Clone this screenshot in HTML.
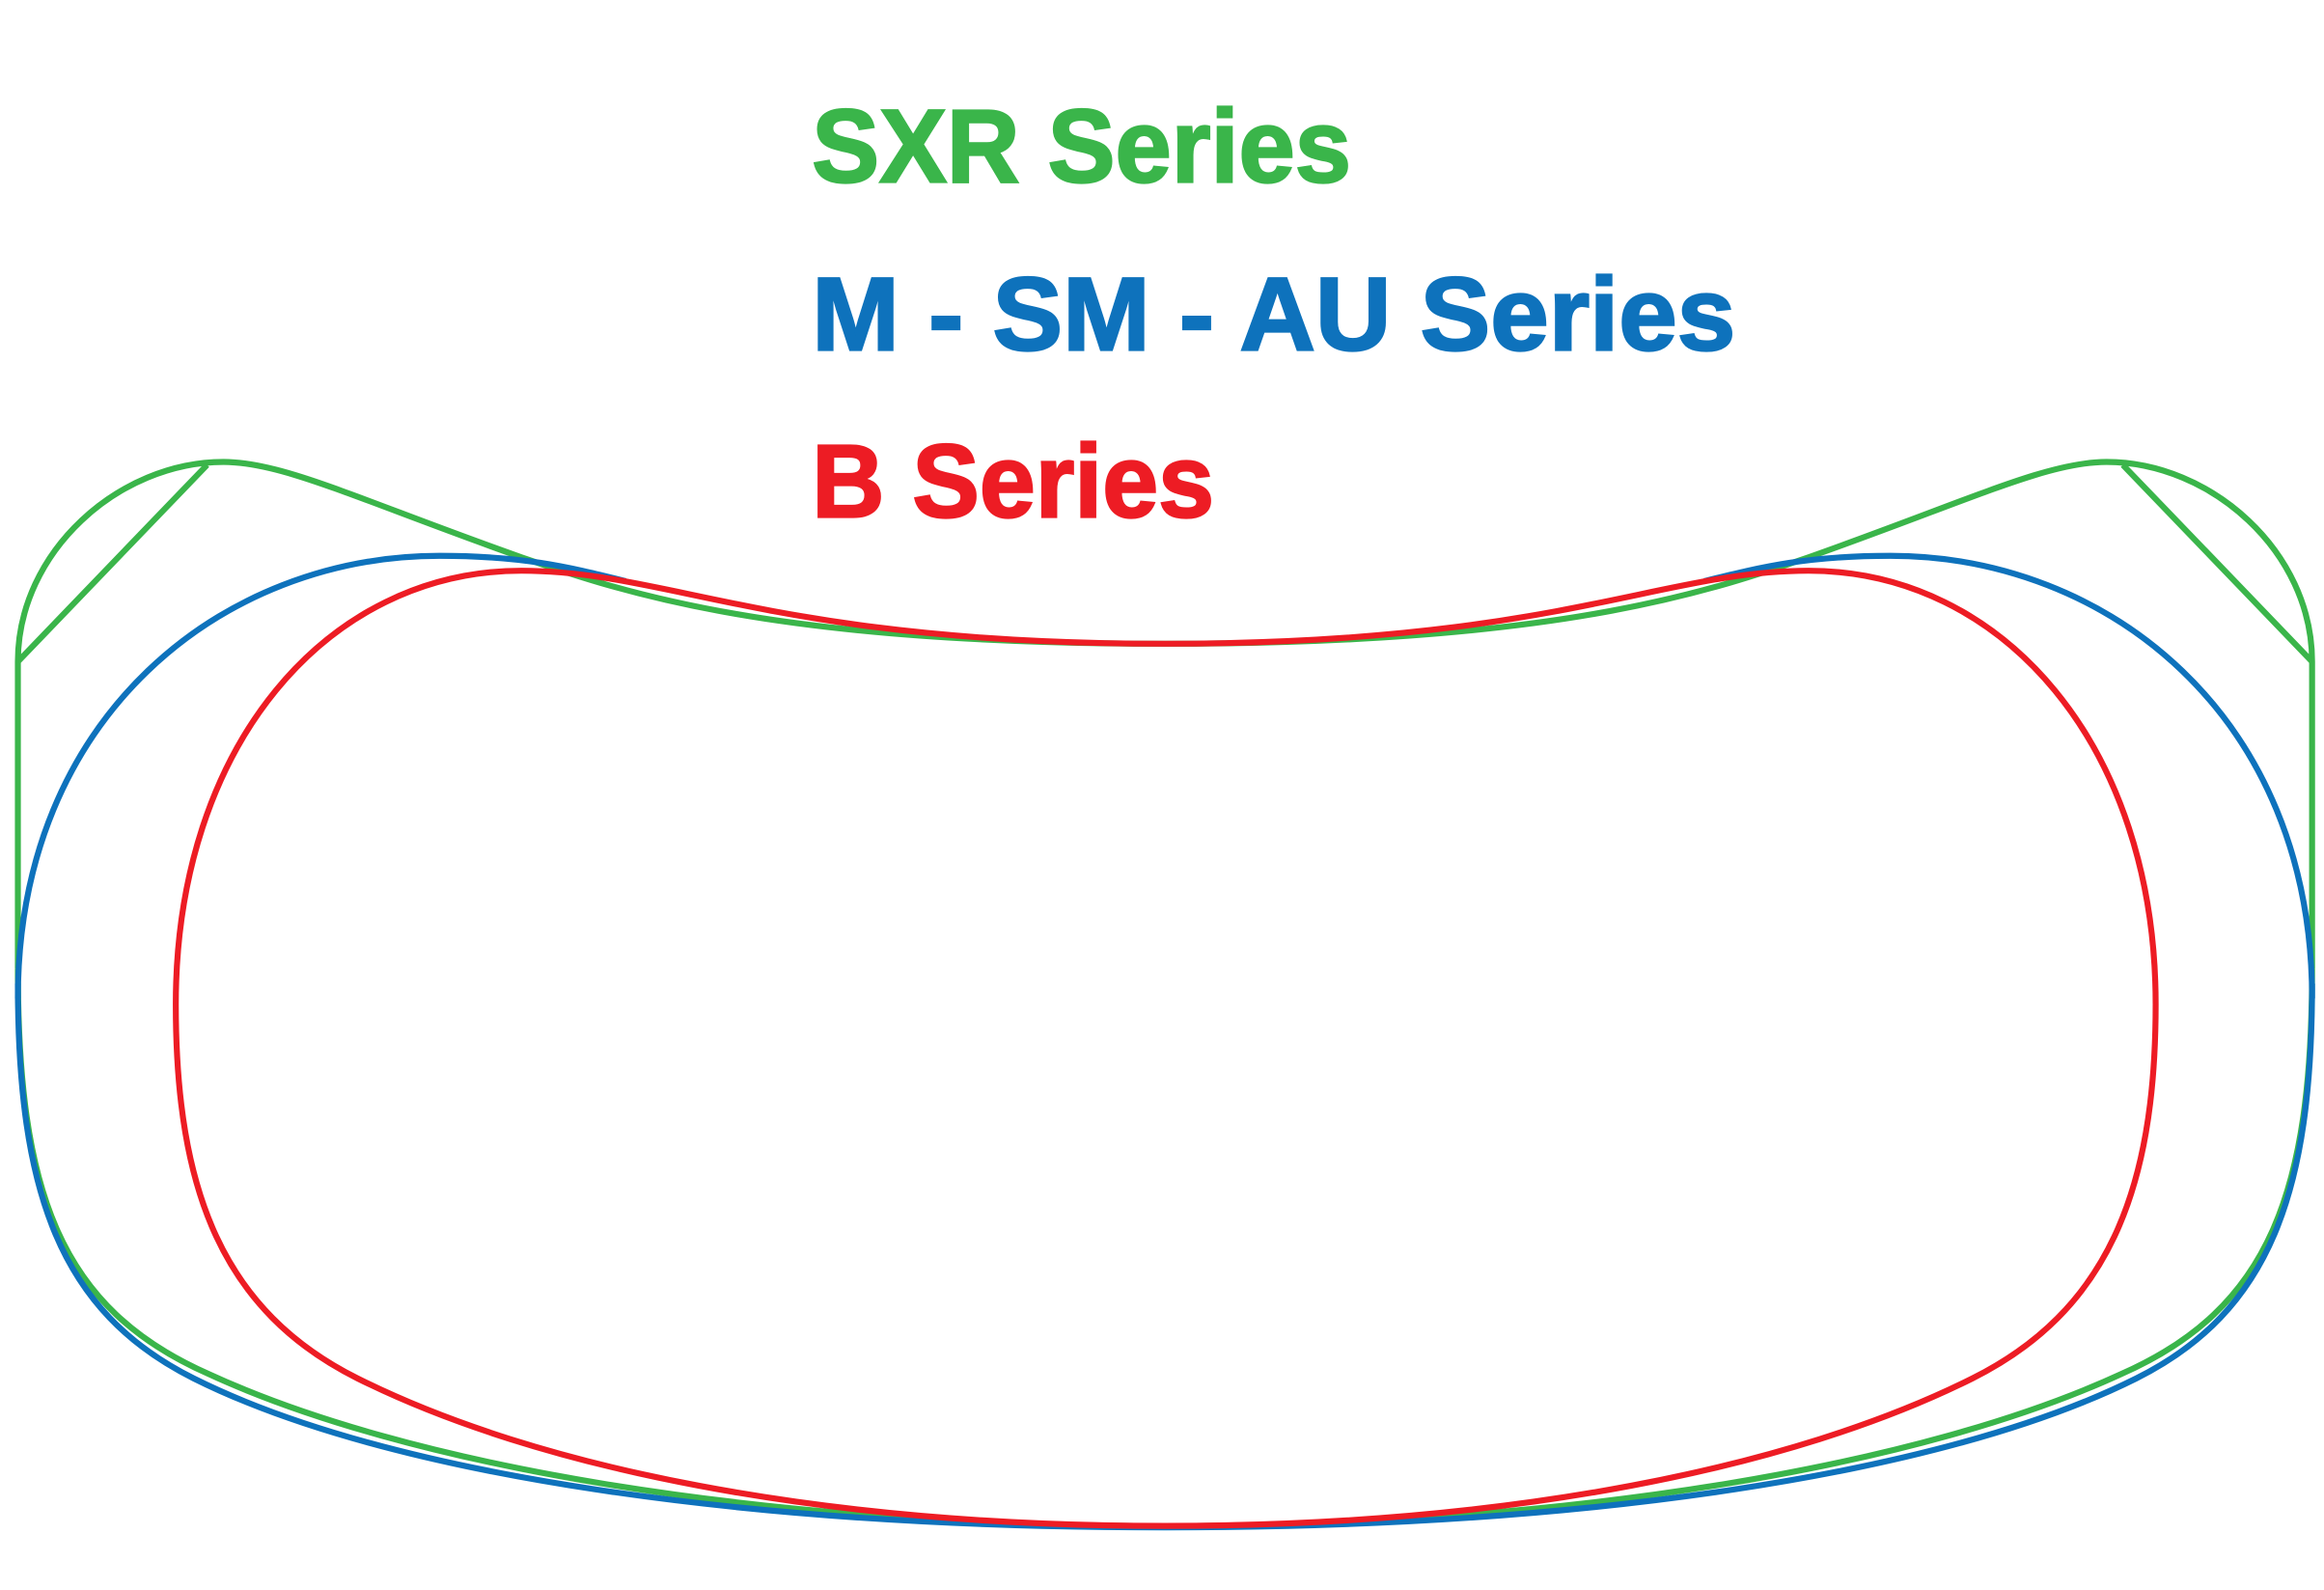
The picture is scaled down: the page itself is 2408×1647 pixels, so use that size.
<!DOCTYPE html>
<html><head><meta charset="utf-8"><style>
html,body{margin:0;padding:0;background:#fff;}
svg{display:block;}
</style></head><body>
<svg width="2408" height="1647" viewBox="0 0 1560 1067" preserveAspectRatio="none" xmlns="http://www.w3.org/2000/svg">
<g font-family="Liberation Sans, sans-serif" font-weight="bold" font-size="70" stroke-width="1.5">
<text x="545" y="122" fill="#3ab54a" stroke="#3ab54a" textLength="362" lengthAdjust="spacingAndGlyphs">SXR Series</text>
<text x="545" y="235" fill="#0e72bc" stroke="#0e72bc" textLength="620" lengthAdjust="spacingAndGlyphs">M - SM - AU Series</text>
<text x="545" y="347" fill="#ed1c24" stroke="#ed1c24" textLength="270" lengthAdjust="spacingAndGlyphs">B Series</text>
</g>
<g fill="none" stroke-width="4" stroke-linejoin="round">
<!-- green -->
<path stroke="#3ab54a" d="M12 650 L12 444 C12 370 80 310 150 310 C190 310 240 335 350 374 C420 398 520 432 782 432 C1044 432 1144 398 1214 374 C1324 335 1374 310 1414 310 C1484 310 1552 370 1552 444 L1552 650"/>
<path stroke="#3ab54a" d="M12 444 L139 312 M1552 444 L1425 312"/>
<path stroke="#3ab54a" d="M12 650 C12 800 40 878 140 922 C270 982 500 1024 782 1024 C1064 1024 1294 982 1424 922 C1524 878 1552 800 1552 650"/>
<!-- blue -->
<path stroke="#0e72bc" d="M12 670 C12 480 150 373 295 373 C350 373 380 380 420 390 M1552 670 C1552 480 1414 373 1269 373 C1214 373 1184 380 1144 390"/>
<path stroke="#0e72bc" d="M12 660 C12 800 40 880 130 925 C260 990 500 1025 782 1025 C1064 1025 1304 990 1434 925 C1524 880 1552 800 1552 660"/>
<!-- red -->
<path stroke="#ed1c24" d="M118 674 C118 500 220 383 350 383 C450 383 520 432 782 432 C1044 432 1114 383 1214 383 C1344 383 1447 500 1447 674 C1447 800 1414 880 1324 925 C1204 985 1014 1024 782 1024 C550 1024 360 985 240 925 C150 880 118 800 118 674 Z"/>
</g>
</svg>
</body></html>
